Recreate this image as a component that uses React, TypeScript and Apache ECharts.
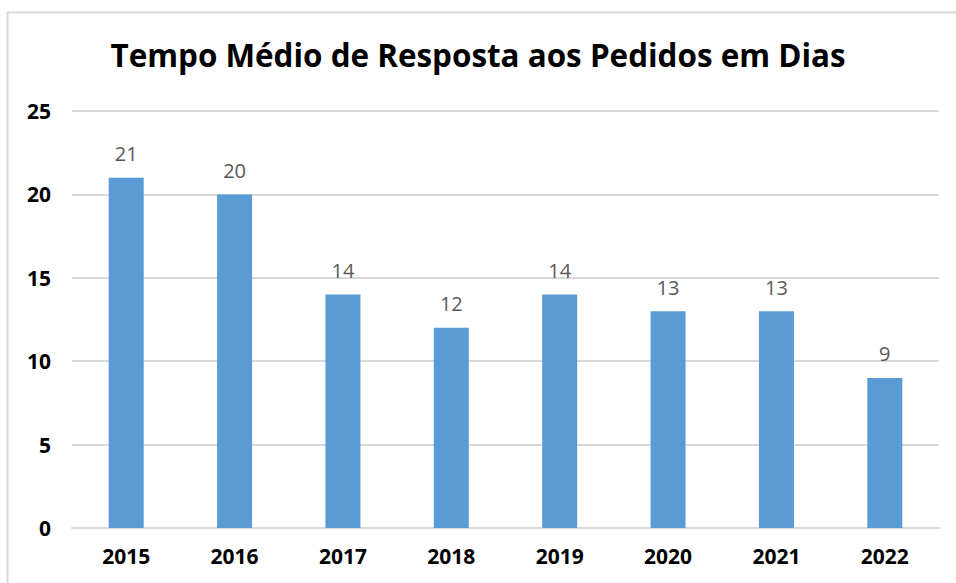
import React, { useEffect, useRef } from "react";
import * as echarts from "echarts";

const categories = ["2015", "2016", "2017", "2018", "2019", "2020", "2021", "2022"];
const values = [21, 20, 14, 12, 14, 13, 13, 9];
const titleText = "Tempo Médio de Resposta aos Pedidos em Dias";

export default function App() {
  const ref = useRef<HTMLDivElement>(null);
  useEffect(() => {
    if (!ref.current) return;
    const chart = echarts.init(ref.current, undefined, { renderer: "svg" });
    chart.setOption({
      animation: false,
      backgroundColor: "#ffffff",
      textStyle: { fontFamily: "Open Sans" },
      title: {
        text: titleText,
        left: "center",
        top: 34,
        textStyle: { fontSize: 31.4, fontWeight: "bold", color: "#000000", fontFamily: "Open Sans" },
      },
      graphic: [
        {
          type: "rect",
          shape: { x: 7.5, y: 12.5, width: 1000, height: 1000 },
          style: { fill: "none", stroke: "#d9d9d9", lineWidth: 2 },
          silent: true,
        },
      ],
      grid: { left: 72, right: 17, top: 111, bottom: 55, containLabel: false },
      xAxis: {
        type: "category",
        data: categories,
        axisLine: { show: true, lineStyle: { color: "#d9d9d9", width: 2 } },
        axisTick: { show: false },
        axisLabel: { fontSize: 21, fontWeight: "bold", color: "#000000", margin: 17, fontFamily: "Open Sans" },
      },
      yAxis: {
        type: "value",
        min: 0,
        max: 25,
        interval: 5,
        axisLine: { show: false },
        axisTick: { show: false },
        splitLine: { lineStyle: { color: "#d9d9d9", width: 2 } },
        axisLabel: { fontSize: 21, fontWeight: "bold", color: "#000000", margin: 21, fontFamily: "Open Sans" },
      },
      series: [
        {
          type: "bar",
          data: values,
          barWidth: 35,
          itemStyle: { color: "#5B9BD5" },
          label: {
            show: true,
            position: "top",
            distance: 14,
            fontSize: 20,
            color: "#595959",
            fontFamily: "Open Sans",
          },
        },
      ],
    });
    return () => chart.dispose();
  }, []);
  return (
    <div
      ref={ref}
      style={{ position: "absolute", left: 0, top: 0, width: 956, height: 583 }}
    />
  );
}
